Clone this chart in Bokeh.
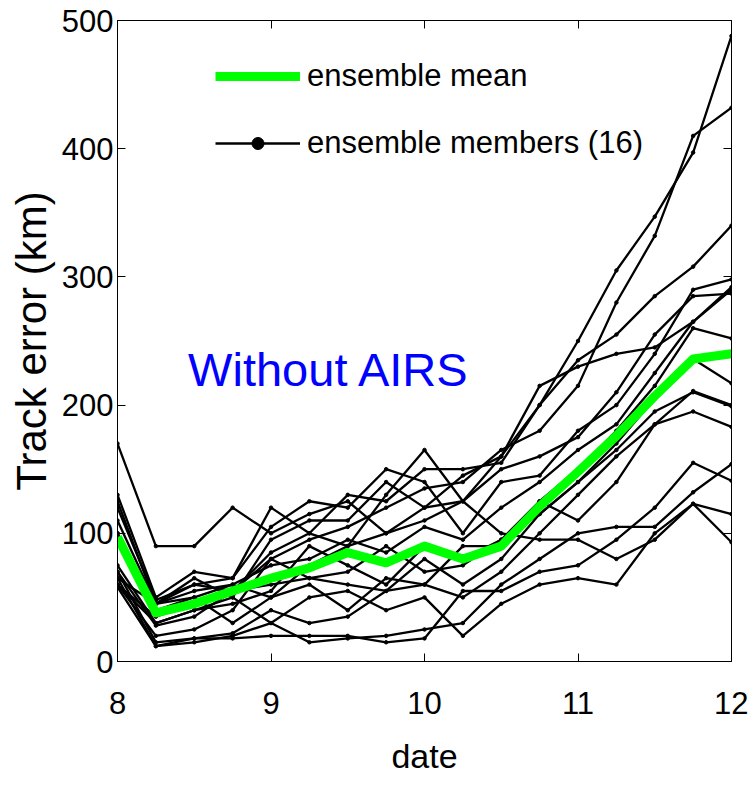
from bokeh.plotting import figure
from bokeh.models import (Range1d, LinearAxis, FixedTicker, Legend, LegendItem, Label)
from bokeh.embed import file_html
from bokeh.resources import INLINE

# ---------------- data ----------------
dates = [8.0, 8.25, 8.5, 8.75, 9.0, 9.25, 9.5, 9.75, 10.0, 10.25, 10.5, 10.75, 11.0, 11.25, 11.5, 11.75, 12.0]

mean_error = [97, 38, 45, 55, 65, 73, 85, 77, 90, 80, 90, 121, 148, 176, 207, 236, 240]

member_01 = [65, 45, 55, 60, 50, 75, 90, 100, 110, 125, 160, 200, 250, 305, 347, 397, 488]
member_02 = [60, 35, 45, 55, 80, 95, 105, 120, 135, 140, 165, 180, 215, 280, 332, 410, 432]
member_03 = [120, 48, 60, 55, 85, 100, 130, 125, 150, 150, 155, 200, 235, 255, 285, 308, 340]
member_04 = [130, 50, 70, 65, 105, 125, 120, 150, 140, 100, 140, 145, 180, 200, 240, 290, 298]
member_05 = [170, 90, 90, 120, 100, 115, 125, 100, 120, 125, 150, 160, 175, 210, 255, 285, 287]
member_06 = [100, 40, 50, 60, 75, 80, 95, 85, 105, 95, 120, 140, 165, 185, 225, 265, 292]
member_07 = [75, 30, 40, 45, 55, 90, 75, 60, 90, 80, 95, 125, 150, 180, 215, 260, 252]
member_08 = [70, 28, 35, 55, 60, 65, 60, 55, 80, 60, 80, 115, 140, 170, 205, 236, 217]
member_09 = [60, 20, 25, 40, 80, 65, 70, 90, 70, 75, 95, 115, 140, 165, 195, 210, 199]
member_10 = [70, 15, 18, 22, 40, 30, 35, 55, 60, 50, 70, 100, 130, 160, 185, 195, 183]
member_11 = [65, 12, 15, 20, 30, 15, 18, 20, 25, 30, 60, 80, 100, 105, 105, 132, 154]
member_12 = [58, 12, 18, 18, 20, 20, 20, 15, 18, 55, 55, 70, 75, 95, 120, 155, 141]
member_13 = [100, 45, 60, 65, 120, 100, 90, 130, 165, 125, 100, 95, 95, 80, 95, 123, 115]
member_14 = [60, 30, 40, 50, 30, 50, 55, 40, 50, 20, 45, 60, 65, 60, 100, 123, 93]
member_15 = [110, 45, 50, 30, 50, 60, 40, 65, 60, 90, 90, 125, 110, 140, 185, 211, 200]
member_16 = [125, 45, 65, 50, 95, 110, 110, 140, 120, 145, 160, 215, 230, 240, 245, 265, 290]

members = [member_01, member_02, member_03, member_04, member_05, member_06, member_07, member_08,
           member_09, member_10, member_11, member_12, member_13, member_14, member_15, member_16]

x_ticks = [8, 9, 10, 11, 12]
y_ticks = [0, 100, 200, 300, 400, 500]

x_label = "date"
y_label = "Track error (km)"
annotation = "Without AIRS"
mean_label = "ensemble mean"
members_label = "ensemble members (16)"

# ---------------- figure ----------------
FONT = "Liberation Sans, Arial, Helvetica, sans-serif"

p = figure(width=748, height=785, output_backend="svg", toolbar_location=None,
           x_range=Range1d(8, 12), y_range=Range1d(0, 500),
           min_border_left=117, min_border_right=17, min_border_top=20, min_border_bottom=124,
           x_axis_label=x_label, y_axis_label=y_label)

p.xgrid.visible = False
p.ygrid.visible = False
p.outline_line_color = "black"
p.outline_line_width = 1
p.background_fill_color = "white"
p.border_fill_color = "white"

def style_axis(ax, ticks, show_labels=True):
    ax.ticker = FixedTicker(ticks=ticks)
    ax.major_tick_in = 8
    ax.major_tick_out = 0
    ax.minor_tick_line_color = None
    ax.axis_line_color = "black"
    ax.major_tick_line_color = "black"
    ax.major_label_text_font = FONT
    ax.major_label_text_font_size = "31px"
    ax.major_label_text_color = "black"
    if not show_labels:
        ax.major_label_text_font_size = "0px"
        ax.major_label_text_alpha = 0

style_axis(p.xaxis[0], x_ticks)
style_axis(p.yaxis[0], y_ticks)
p.xaxis[0].major_label_standoff = 30
p.yaxis[0].major_label_standoff = 4
p.xaxis[0].axis_label_text_font = FONT
p.xaxis[0].axis_label_text_font_size = "34px"
p.xaxis[0].axis_label_text_font_style = "normal"
p.xaxis[0].axis_label_text_color = "black"
p.xaxis[0].axis_label_standoff = 20
p.yaxis[0].axis_label_text_font = FONT
p.yaxis[0].axis_label_text_font_size = "42px"
p.yaxis[0].axis_label_text_font_style = "normal"
p.yaxis[0].axis_label_text_color = "black"
p.yaxis[0].axis_label_standoff = 4

right_ax = LinearAxis()
style_axis(right_ax, y_ticks, show_labels=False)
p.add_layout(right_ax, "right")
top_ax = LinearAxis()
style_axis(top_ax, x_ticks, show_labels=False)
p.add_layout(top_ax, "above")

# ---------------- members ----------------
first_line = None
first_dots = None
for m in members:
    lr = p.line(dates, m, line_color="black", line_width=2.3)
    sr = p.scatter(dates, m, marker="circle", size=3.5, fill_color="black", line_color="black")
    if first_line is None:
        first_line, first_dots = lr, sr

mean_r = p.line(dates, mean_error, line_color="#00FF00", line_width=9, line_join="round")

legend = Legend(items=[LegendItem(label=mean_label, renderers=[mean_r]),
                       LegendItem(label=members_label, renderers=[first_line, first_dots])],
                location=(98, 500), border_line_color=None, background_fill_alpha=0,
                glyph_width=85, glyph_height=30, label_height=30, label_standoff=7,
                spacing=31, padding=0, margin=0,
                label_text_font=FONT, label_text_font_size="31px", label_text_color="black")
p.add_layout(legend)

p.add_layout(Label(x=8.46, y=228, text=annotation, text_color="#0000FF",
                   text_font=FONT, text_font_size="47px",
                   text_baseline="alphabetic"))

open("out.html", "w").write(file_html(p, INLINE))
